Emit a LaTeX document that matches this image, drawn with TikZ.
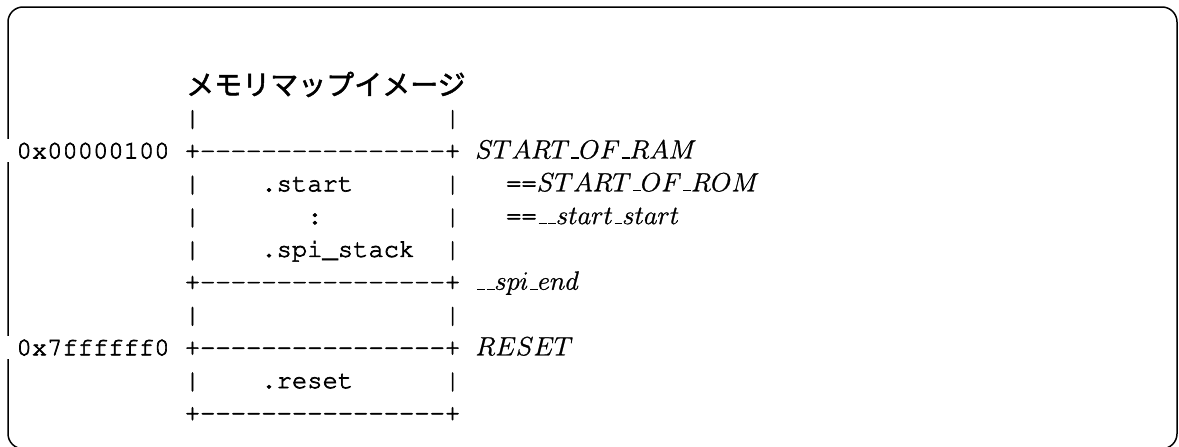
\documentclass[tikz,border=0pt]{standalone}
\usepackage{fix-cm}
\usepackage[T1]{fontenc}
\usepackage{fontspec}
\newfontfamily\cjkjp{Noto Sans CJK JP}
\newcommand\monofont{\fontencoding{T1}\fontfamily{pcr}\fontseries{m}\fontshape{n}\fontsize{25.5}{30}\selectfont}
\newcommand\labfont{\fontsize{26.4}{32}\selectfont}
\newcommand\us{\mbox{\kern.06em\vbox{\hrule height 1.1pt width .3em}}}
\newcommand\boxline{+-{}-{}-{}-{}-{}-{}-{}-{}-{}-{}-{}-{}-{}-{}-{}-+}
\newcommand\heavymono{\special{pdf:literal direct 2 Tr 0.65 w}}
\newcommand\heavyttl{\special{pdf:literal direct 2 Tr 0.5 w}}
\newcommand\heavylab{\special{pdf:literal direct 2 Tr 0.25 w}}
\newcommand\plaintext{\special{pdf:literal direct 0 Tr}}
\begin{document}
\begin{tikzpicture}[x=1pt,y=-1pt,
  mono/.style={font=\monofont, inner sep=0pt, anchor=base west,
    execute at begin node=\heavymono, execute at end node=\plaintext},
  lab/.style={font=\labfont, inner sep=0pt, anchor=base west,
    execute at begin node=\heavylab, execute at end node=\plaintext},
  ttl/.style={font=\cjkjp\fontsize{28}{32}\selectfont, inner sep=0pt, anchor=base west,
    execute at begin node=\heavyttl, execute at end node=\plaintext},
  addr/.style={mono, fill=white, inner xsep=16.35pt, inner ysep=3pt},
  frame/.style={draw=black, line width=1.5pt, rounded corners=15pt}]
\useasboundingbox (0,0) rectangle (1179,447);
\draw[frame] (8,7) rectangle (1177,448.7);
% title
\node[ttl] (title) at (186,95) {メモリマップイメージ};
% row 1
\node[mono] (l1) at (184.65,125.7) {|};
\node[mono] (r1) at (444.75,125.7) {|};
% row 2
\node[addr] (a1) at (0,158.5) {0x00000100};
\node[mono] (b1) at (184.65,158.5) {\boxline};
\node[lab] (ram) at (475.35,158.5) {$START\us OF\us RAM$};
% row 3
\node[mono] (l3) at (184.65,191.3) {|};
\node[mono] (s3) at (261.15,191.3) {.start};
\node[mono] (r3) at (444.75,191.3) {|};
\node[mono] (e3) at (505.95,191.3) {==};
\node[lab] (rom) at (e3.base east) {$START\us OF\us ROM$};
% row 4
\node[mono] (l4) at (184.65,224.1) {|};
\node[mono] (s4) at (307.05,224.1) {:};
\node[mono] (r4) at (444.75,224.1) {|};
\node[mono] (e4) at (505.95,224.1) {==};
\node[lab] (ss) at (e4.base east) {$\us\us start\us start$};
% row 5
\node[mono] (l5) at (184.65,256.9) {|};
\node[mono] (s5) at (261.15,256.9) {.spi\_stack};
\node[mono] (r5) at (444.75,256.9) {|};
% row 6
\node[mono] (b6) at (184.65,289.7) {\boxline};
\node[lab] (spiend) at (475.35,289.7) {$\us\us spi\us end$};
% row 7
\node[mono] (l7) at (184.65,322.5) {|};
\node[mono] (r7) at (444.75,322.5) {|};
% row 8
\node[addr] (a8) at (0,355.3) {0x7ffffff0};
\node[mono] (b8) at (184.65,355.3) {\boxline};
\node[lab] (reset) at (475.35,355.3) {$RESET$};
% row 9
\node[mono] (l9) at (184.65,388.1) {|};
\node[mono] (s9) at (261.15,388.1) {.reset};
\node[mono] (r9) at (444.75,388.1) {|};
% row 10
\node[mono] (b10) at (184.65,420.9) {\boxline};
\end{tikzpicture}
\end{document}
